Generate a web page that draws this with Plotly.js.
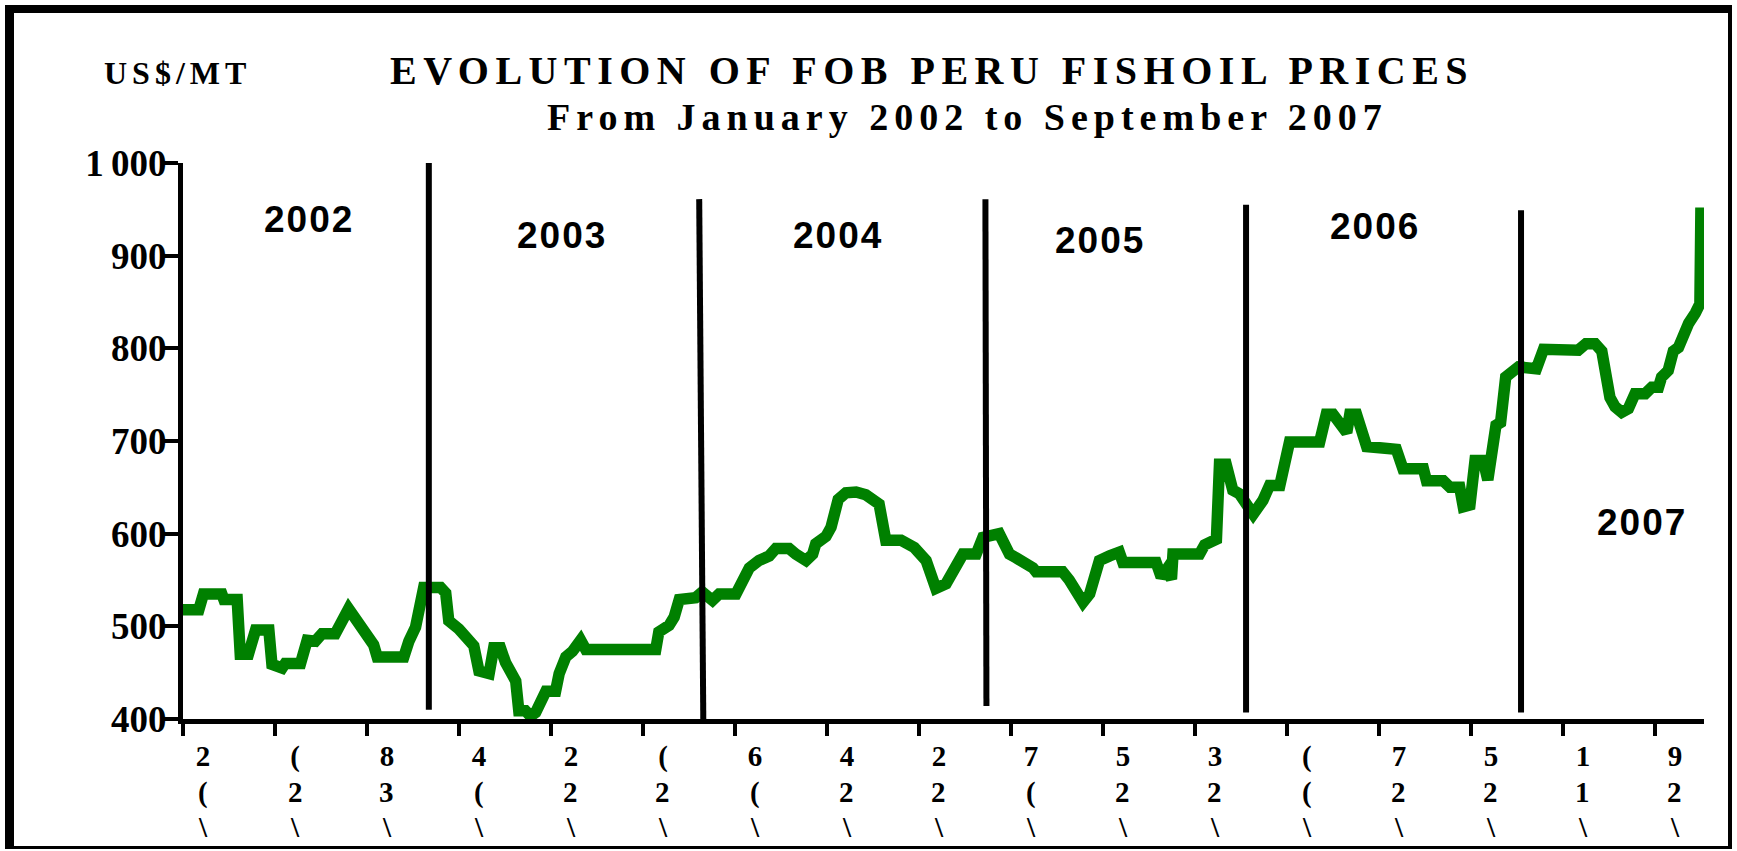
<!DOCTYPE html>
<html>
<head>
<meta charset="utf-8">
<script src="https://cdn.plot.ly/plotly-3.0.1.min.js"></script>
<style>
  html, body { margin: 0; padding: 0; background: #ffffff; }
  #wrap { position: relative; width: 1737px; height: 851px; overflow: hidden; }
  #plot { position: absolute; left: 0; top: 0; width: 1737px; height: 851px; }
  #frame {
    position: absolute; left: 5px; top: 5px; width: 1727px; height: 844px;
    box-sizing: border-box; pointer-events: none;
    border-left: 9px solid #000; border-top: 8px solid #000;
    border-right: 4px solid #000; border-bottom: 3px solid #000;
  }
</style>
</head>
<body>
<div id="wrap">
  <div id="plot"></div>
  <div id="frame"></div>
</div>
<script>
// Week number counted from the first week of January 2002, and FOB price in US$/MT
const week = [
  0, 3.1, 4.0, 7.6, 8.0, 10.6, 11.2, 12.8, 14.2, 16.8, 17.4, 19.4, 20.0, 23.0, 24.3, 25.9,
  27.2, 29.8, 32.4, 33.1, 35.1, 36.0, 37.3, 38.0, 43.2, 44.2, 45.5, 47.1, 50.4, 51.4, 52.0,
  54.0, 55.6, 56.9, 57.9, 59.9, 60.8, 62.1, 63.1, 65.1, 65.7, 67.0, 68.0, 69.0, 71.0, 72.9,
  73.6, 74.9, 76.2, 77.8, 78.8, 92.5, 93.1, 95.1, 96.1, 97.1, 100.3, 101.6, 103.6, 104.9,
  108.2, 108.8, 109.5, 110.8, 112.7, 114.7, 116.0, 118.6, 119.9, 121.9, 123.2, 123.8, 125.8,
  126.8, 128.2, 129.7, 131.7, 133.6, 136.2, 137.5, 140.5, 143.1, 145.4, 147.3, 149.3, 151.3,
  152.6, 155.2, 156.5, 159.7, 161.7, 163.0, 165.0, 166.3, 166.9, 172.1, 173.4, 176.1, 177.4,
  179.3, 181.3, 183.2, 183.9, 190.4, 191.4, 192.4, 193.4, 193.7, 198.9, 199.9, 202.2, 202.8,
  204.1, 205.4, 206.7, 208.1, 209.4, 211.3, 212.6, 214.6, 215.5, 216.5, 222.4, 223.7, 225.0,
  226.3, 227.7, 228.3, 229.6, 231.6, 237.4, 238.7, 242.7, 243.3, 246.6, 247.9, 249.8, 250.5,
  251.8, 252.8, 254.4, 255.3, 256.3, 256.9, 257.8, 258.8, 261.3, 264.8, 266.2, 273.0, 274.5,
  276.3, 277.6, 279.2, 280.2, 281.5, 282.8, 284.1, 286.1, 287.4, 288.7, 289.3, 290.6, 291.6,
  292.6, 293.3, 294.6, 295.9, 296.8, 297.0
];
const price = [
  518, 518, 535, 535, 529, 529, 470, 470, 496, 496, 459, 455, 460, 460, 485, 484,
  492, 492, 519, 514, 496, 490, 480, 467, 467, 484, 499, 542, 542, 536, 506,
  497, 488, 479, 452, 449, 477, 477, 461, 441, 409, 409, 403, 407, 430, 430,
  449, 467, 473, 485, 475, 475, 494, 501, 510, 529, 531, 537, 528, 535,
  535, 541, 553, 563, 571, 576, 584, 584, 578, 571, 578, 589, 597,
  607, 637, 644, 645, 642, 632, 593, 593, 585, 571, 541, 546, 563,
  578, 578, 596, 600, 578, 574, 569, 563, 559, 559, 550, 526, 535,
  571, 576, 580, 569, 569, 553, 561, 551, 578, 578, 588, 594, 675,
  675, 647, 643, 632, 621, 636, 652, 652, 676, 699, 699, 729, 729,
  719, 709, 729, 729, 694, 691, 670, 670, 657, 657, 650, 650, 629,
  631, 679, 679, 658, 696, 717, 720, 769, 780, 778, 799, 798, 805,
  805, 797, 747, 737, 731, 735, 751, 751, 758, 758, 769, 776, 797,
  801, 812, 827, 838, 848, 952
];

// x-axis ticks (every 18 weeks) and their clipped labels as printed (three rows)
const tickWeeks = [0, 18, 36, 54, 72, 90, 108, 126, 144, 162, 180, 198, 216, 234, 252, 270, 288];
const tickTop = ["2", "(", "8", "4", "2", "(", "6", "4", "2", "7", "5", "3", "(", "7", "5", "1", "9"];
const tickMid = ["(", "2", "3", "(", "2", "2", "(", "2", "2", "(", "2", "2", "(", "2", "2", "1", "2"];
const tickBot = ["\\", "\\", "\\", "\\", "\\", "\\", "\\", "\\", "\\", "\\", "\\", "\\", "\\", "\\", "\\", "\\", "\\"];

const yTickVals = [400, 500, 600, 700, 800, 900, 1000];
const yTickText = ["400", "500", "600", "700", "800", "900", "1\u2009000"];

const years = ["2002", "2003", "2004", "2005", "2006", "2007"];
const yearLabelWeek = [24.7, 74.2, 128.1, 179.4, 233.3, 285.5];
const yearLabelPrice = [939, 922, 922, 916, 932, 612];

// year separators: [week at top, week at bottom, price at top, price at bottom]
const sepWeekTop = [48.1, 101.0, 157.0, 208.0, 261.8];
const sepWeekBot = [48.1, 101.8, 157.2, 208.0, 261.8];
const sepTop = [1000, 961, 961, 955, 949];
const sepBot = [410, 400, 414, 407, 407];

const serif = "Liberation Serif, Times New Roman, serif";
const sans = "Liberation Sans, Arial, sans-serif";

const trace = {
  x: week, y: price, type: "scatter", mode: "lines",
  line: { color: "#008000", width: 11.5 },
  hoverinfo: "skip"
};

const shapes = sepWeekTop.map((w, i) => ({
  type: "line", xref: "x", yref: "y",
  x0: w, x1: sepWeekBot[i], y0: sepTop[i], y1: sepBot[i],
  line: { color: "#000", width: 6 }, layer: "above"
}));

const annotations = years.map((t, i) => ({
  x: yearLabelWeek[i], y: yearLabelPrice[i], xref: "x", yref: "y",
  text: '<span style="letter-spacing:2px">' + t + '</span>',
  showarrow: false, xanchor: "center", yanchor: "middle",
  font: { family: sans, size: 37, color: "#000", weight: "bold" }
}));

// second and third rows of the x tick labels
const tickFont = { family: serif, size: 29, color: "#000", weight: "bold" };
tickWeeks.forEach((w, i) => {
  annotations.push({
    x: w, y: -0.1315, xref: "x", yref: "paper", xshift: 20,
    text: tickMid[i], showarrow: false, xanchor: "center", yanchor: "middle", font: tickFont
  });
  annotations.push({
    x: w, y: -0.1945, xref: "x", yref: "paper", xshift: 20,
    text: tickBot[i], showarrow: false, xanchor: "center", yanchor: "middle", font: tickFont
  });
});

annotations.push({
  x: 0.4925, y: 1.166, xref: "paper", yref: "paper",
  text: '<span style="letter-spacing:6.5px">EVOLUTION OF FOB PERU FISHOIL PRICES</span>',
  showarrow: false, xanchor: "center", yanchor: "middle",
  font: { family: serif, size: 40, color: "#000", weight: "bold" }
});
annotations.push({
  x: 0.5155, y: 1.083, xref: "paper", yref: "paper",
  text: '<span style="letter-spacing:6px">From January 2002 to September 2007</span>',
  showarrow: false, xanchor: "center", yanchor: "middle",
  font: { family: serif, size: 38, color: "#000", weight: "bold" }
});
annotations.push({
  x: -0.0033, y: 1.162, xref: "paper", yref: "paper",
  text: '<span style="letter-spacing:5px">US$/MT</span>',
  showarrow: false, xanchor: "center", yanchor: "middle",
  font: { family: serif, size: 32, color: "#000", weight: "bold" }
});

const layout = {
  width: 1737, height: 851,
  margin: { l: 183, r: 33, t: 163, b: 132, pad: 0 },
  paper_bgcolor: "#ffffff", plot_bgcolor: "#ffffff",
  showlegend: false,
  xaxis: {
    range: [0, 297.6], showgrid: false, zeroline: false,
    showline: true, linecolor: "#000", linewidth: 5,
    ticks: "outside", ticklen: 12, tickwidth: 4, tickcolor: "#000",
    tickmode: "array", tickvals: tickWeeks, ticktext: tickTop,
    tickfont: tickFont,
    ticklabelshift: 20, ticklabelstandoff: -5
  },
  yaxis: {
    range: [400, 1000], showgrid: false, zeroline: false,
    showline: true, linecolor: "#000", linewidth: 5,
    ticks: "outside", ticklen: 14, tickwidth: 4, tickcolor: "#000",
    tickmode: "array", tickvals: yTickVals, ticktext: yTickText,
    tickfont: { family: serif, size: 37, color: "#000", weight: "bold" },
    ticklabelstandoff: -10
  },
  shapes: shapes,
  annotations: annotations
};

Plotly.newPlot("plot", [trace], layout, { staticPlot: true, displayModeBar: false });
</script>
</body>
</html>
